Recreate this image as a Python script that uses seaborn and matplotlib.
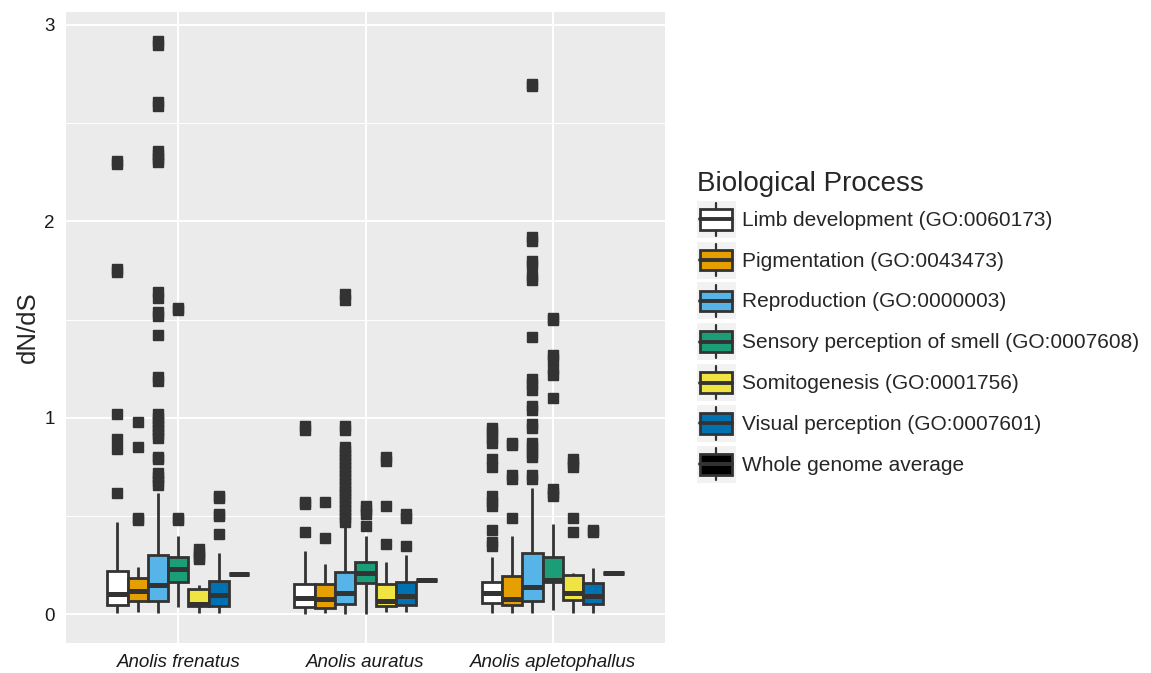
import numpy as np
import pandas as pd
import matplotlib
matplotlib.use('Agg')
import matplotlib.pyplot as plt
import seaborn as sns
from matplotlib.patches import Patch, Rectangle
from matplotlib.lines import Line2D
from matplotlib.legend_handler import HandlerBase
from matplotlib.ticker import MultipleLocator

# 物种和GO类别
species = ['Anolis frenatus', 'Anolis auratus', 'Anolis apletophallus']
processes = [
    'Limb development (GO:0060173)',
    'Pigmentation (GO:0043473)',
    'Reproduction (GO:0000003)',
    'Sensory perception of smell (GO:0007608)',
    'Somitogenesis (GO:0001756)',
    'Visual perception (GO:0007601)',
    'Whole genome average',
]
colors = ['#FFFFFF', '#E69F00', '#56B4E9', '#1B9E77', '#F0E442', '#0072B2', '#000000']

# 箱线图统计量 (按物种, 每行7个类别)
whisker_low = [
    [0.008, 0.012, 0.005, 0.037, 0.005, 0.005, 0.206],
    [0.002, 0.005, 0.002, 0.002, 0.010, 0.010, 0.177],
    [0.005, 0.005, 0.005, 0.024, 0.005, 0.005, 0.210],
]
box_q1 = [
    [0.049, 0.066, 0.066, 0.167, 0.040, 0.044, 0.206],
    [0.037, 0.032, 0.051, 0.159, 0.042, 0.045, 0.177],
    [0.059, 0.049, 0.068, 0.162, 0.071, 0.054, 0.210],
]
box_median = [
    [0.105, 0.118, 0.147, 0.230, 0.055, 0.100, 0.206],
    [0.085, 0.080, 0.110, 0.210, 0.070, 0.093, 0.177],
    [0.111, 0.076, 0.140, 0.177, 0.110, 0.091, 0.210],
]
box_q3 = [
    [0.220, 0.186, 0.300, 0.290, 0.130, 0.170, 0.206],
    [0.156, 0.156, 0.215, 0.265, 0.152, 0.165, 0.177],
    [0.166, 0.194, 0.310, 0.294, 0.198, 0.160, 0.210],
]
whisker_high = [
    [0.468, 0.240, 0.617, 0.400, 0.147, 0.310, 0.206],
    [0.324, 0.257, 0.446, 0.400, 0.265, 0.300, 0.177],
    [0.294, 0.400, 0.645, 0.460, 0.210, 0.237, 0.210],
]

# 离群点
outliers_frenatus = [
    [2.31, 2.29, 1.76, 1.74, 1.02, 0.89, 0.84, 0.62],
    [0.98, 0.85, 0.49, 0.48],
    [2.92, 2.90, 2.61, 2.59, 2.36, 2.34, 2.32, 2.30, 1.64, 1.61, 1.54, 1.52, 1.42,
     1.21, 1.19, 1.02, 1.00, 0.98, 0.96, 0.94, 0.92, 0.90, 0.80, 0.79,
     0.72, 0.70, 0.68, 0.66],
    [1.56, 1.55, 0.49, 0.48],
    [0.33, 0.31, 0.29, 0.28],
    [0.60, 0.59, 0.51, 0.50, 0.41],
    [],
]
outliers_auratus = [
    [0.96, 0.94, 0.57, 0.56, 0.42],
    [0.57, 0.39],
    [1.63, 1.60, 0.96, 0.94, 0.85, 0.83, 0.81, 0.79, 0.77, 0.75, 0.73, 0.71, 0.69,
     0.67, 0.65, 0.63, 0.61, 0.59, 0.57, 0.55, 0.53, 0.51, 0.49, 0.47],
    [0.55, 0.53, 0.51, 0.45],
    [0.80, 0.78, 0.55, 0.36],
    [0.51, 0.49, 0.35],
    [],
]
outliers_apletophallus = [
    [0.95, 0.93, 0.90, 0.87, 0.79, 0.75, 0.60, 0.57, 0.55, 0.43, 0.37, 0.35],
    [0.87, 0.86, 0.71, 0.69, 0.49],
    [2.70, 2.69, 1.92, 1.90, 1.80, 1.78, 1.72, 1.70, 1.41, 1.20, 1.17, 1.14,
     1.06, 1.04, 0.97, 0.95, 0.87, 0.85, 0.82, 0.80, 0.71, 0.69],
    [1.51, 1.50, 1.32, 1.30, 1.25, 1.22, 1.10, 0.64, 0.62, 0.60],
    [0.79, 0.77, 0.75, 0.49, 0.42],
    [0.43, 0.42],
    [],
]
outliers = [outliers_frenatus, outliers_auratus, outliers_apletophallus]

LINE = '#333333'


def expand(lo, q1, med, q3, hi, extra):
    # 用重复值凑出一组样本, 使分位数等于读出的统计量
    n = len(extra) + 8
    return [lo] + [q1] * n + [med] * n + [q3] * n + [hi] + list(extra)


rows = []
for i, sp in enumerate(species):
    for j, proc in enumerate(processes):
        vals = expand(whisker_low[i][j], box_q1[i][j], box_median[i][j],
                      box_q3[i][j], whisker_high[i][j], outliers[i][j])
        rows += [(sp, proc, v) for v in vals]
df = pd.DataFrame(rows, columns=['species', 'process', 'dnds'])


class BoxKey(HandlerBase):
    # ggplot风格的图例键
    def create_artists(self, legend, orig_handle, xdescent, ydescent,
                       width, height, fontsize, trans):
        x0, y0 = -xdescent, -ydescent
        bg = Rectangle((x0, y0), width, height, facecolor='#F2F2F2',
                       edgecolor='none', transform=trans)
        cx = x0 + width / 2
        whisk = Line2D([cx, cx], [y0 + 0.06 * height, y0 + 0.94 * height],
                       color=LINE, lw=1.6, transform=trans)
        box = Rectangle((x0 + 0.08 * width, y0 + 0.22 * height), 0.84 * width,
                        0.56 * height, facecolor=orig_handle.get_facecolor(),
                        edgecolor=LINE, lw=2.0, transform=trans)
        med = Line2D([x0 + 0.08 * width, x0 + 0.92 * width],
                     [y0 + height / 2] * 2, color=LINE, lw=2.8, transform=trans)
        return [bg, whisk, box, med]


sns.set_theme(style='darkgrid')
plt.rcParams['font.family'] = ['Liberation Sans', 'DejaVu Sans']

fig = plt.figure(figsize=(11.51, 6.73), dpi=100)
ax = fig.add_axes([66 / 1151, 30 / 673, 599 / 1151, 631 / 673])

sns.boxplot(data=df, x='species', y='dnds', hue='process', order=species,
            hue_order=processes, palette=colors, saturation=1, width=0.76,
            dodge=True, linecolor=LINE, linewidth=2.0, fliersize=6.5,
            flierprops=dict(marker='s', markerfacecolor=LINE, markeredgecolor=LINE),
            medianprops=dict(linewidth=3.6), showcaps=False, legend=False, ax=ax)

ax.set_facecolor('#EBEBEB')
for s in ax.spines.values():
    s.set_visible(False)
ax.set_xlim(-0.6, 2.6)
ax.set_ylim(-0.146, 3.066)
ax.set_yticks([0, 1, 2, 3])
ax.yaxis.set_minor_locator(MultipleLocator(0.5))
ax.set_axisbelow(True)
ax.grid(True, which='major', axis='both', color='white', linewidth=1.4)
ax.grid(True, which='minor', axis='y', color='white', linewidth=0.7)
ax.tick_params(axis='both', which='major', length=5, width=1.2, color=LINE,
               labelsize=13.5, labelcolor='#1A1A1A', pad=3)
ax.tick_params(axis='y', which='minor', length=0)
for lab in ax.get_xticklabels():
    lab.set_fontstyle('italic')
ax.set_xlabel('')
ax.set_ylabel('dN/dS', fontsize=18.5, labelpad=3)

handles = [Patch(facecolor=c) for c in colors]
fig.legend(handles, processes, loc='upper left',
           bbox_to_anchor=(697 / 1151, 1 - 171 / 673), frameon=False,
           title='Biological Process', title_fontsize=20, fontsize=15,
           handler_map={Patch: BoxKey()}, handlelength=1.85, handleheight=2.36,
           handletextpad=0.3, labelspacing=0.18, borderpad=0, borderaxespad=0,
           alignment='left')

fig.savefig('out.png', dpi=100)
